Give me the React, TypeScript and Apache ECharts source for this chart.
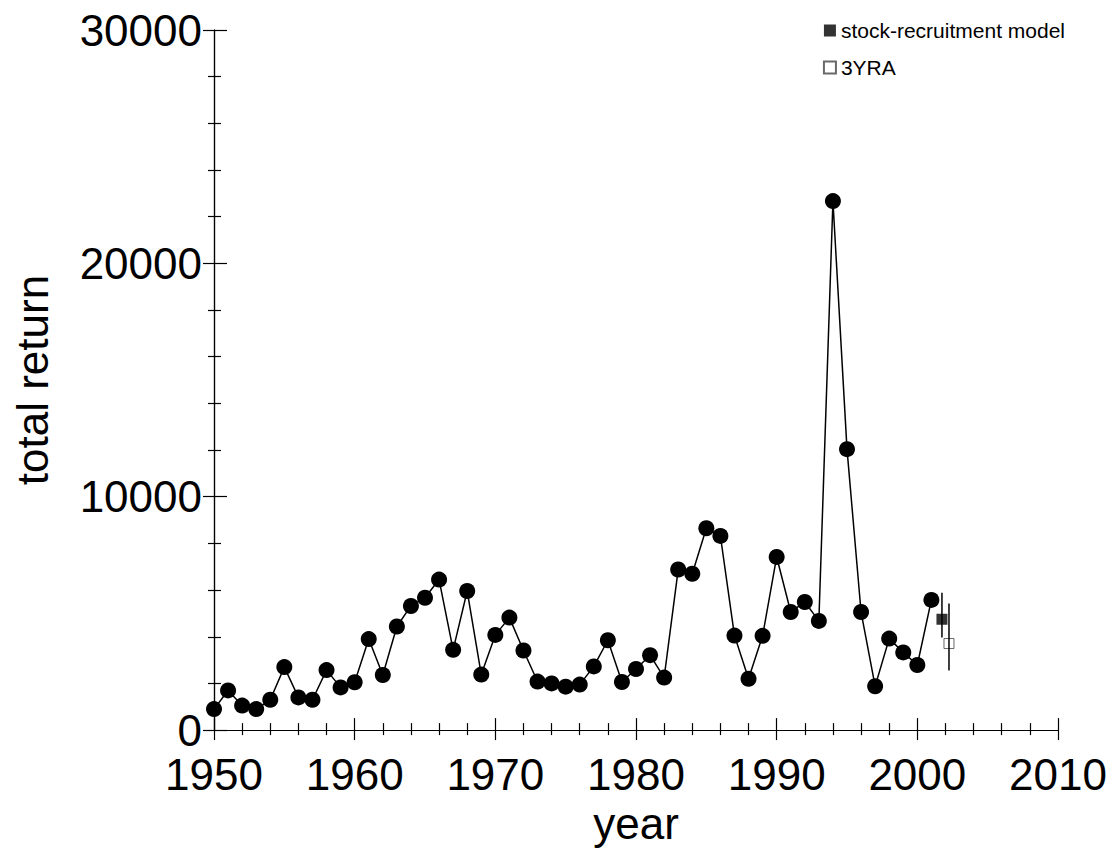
import React, { useEffect, useRef } from "react";
import * as echarts from "echarts";

const years = [
  1950, 1951, 1952, 1953, 1954, 1955, 1956, 1957, 1958, 1959,
  1960, 1961, 1962, 1963, 1964, 1965, 1966, 1967, 1968, 1969,
  1970, 1971, 1972, 1973, 1974, 1975, 1976, 1977, 1978, 1979,
  1980, 1981, 1982, 1983, 1984, 1985, 1986, 1987, 1988, 1989,
  1990, 1991, 1992, 1993, 1994, 1995, 1996, 1997, 1998, 1999,
  2000, 2001,
];
const totalReturn = [
  900, 1700, 1050, 900, 1300, 2700, 1400, 1300, 2570, 1830,
  2050, 3900, 2360, 4440, 5320, 5670, 6450, 3440, 5960, 2380,
  4080, 4820, 3410, 2080, 2000, 1860, 1950, 2730, 3850, 2060,
  2620, 3210, 2250, 6880, 6700, 8650, 8320, 4050, 2200, 4040,
  7420, 5060, 5490, 4680, 22670, 12040, 5060, 1880, 3920, 3330,
  2790, 5580,
];

// forecast 2002: stock-recruitment model
const modelPoint = [2001.75, 4750];
const modelRange = [3970, 5890];
// forecast 2002: 3YRA
const yraPoint = [2002.25, 3710];
const yraRange = [2550, 5420];

const legendNames = ["stock-recruitment model", "3YRA"];
const xMin = 1950, xMax = 2010, xStep = 10;
const yMin = 0, yMax = 30000, yStep = 10000;

const FONT = "Liberation Sans, Arial, sans-serif";

export default function App() {
  const ref = useRef<HTMLDivElement>(null);
  useEffect(() => {
    if (!ref.current) return;
    const chart = echarts.init(ref.current, null, { renderer: "svg" });
    const plain = (v: number) => String(v);
    const baseX = {
      type: "value",
      min: xMin,
      max: xMax,
      interval: xStep,
      position: "bottom",
      splitLine: { show: false },
      axisLine: { show: true, onZero: false, lineStyle: { color: "#000", width: 1.2 } },
    };
    const baseY = {
      type: "value",
      min: yMin,
      max: yMax,
      interval: yStep,
      position: "left",
      splitLine: { show: false },
      axisLine: { show: true, onZero: false, lineStyle: { color: "#000", width: 1.2 } },
    };
    chart.setOption({
      animation: false,
      backgroundColor: "#fff",
      grid: { left: 214, right: 60, top: 30, bottom: 117, containLabel: false },
      legend: {
        data: legendNames,
        orient: "vertical",
        right: 48,
        top: 15,
        align: "left",
        itemWidth: 12,
        itemHeight: 12,
        itemGap: 16,
        textStyle: { fontFamily: FONT, fontSize: 21, color: "#000" },
      },
      xAxis: [
        {
          ...baseX,
          name: "year",
          nameLocation: "middle",
          nameGap: 68,
          nameTextStyle: { fontFamily: FONT, fontSize: 44, color: "#000" },
          axisTick: { show: true, inside: true, length: 12, lineStyle: { color: "#000", width: 1.2 } },
          minorTick: { show: true, splitNumber: 5, length: 7, lineStyle: { color: "#000", width: 1.2 } },
          axisLabel: { fontFamily: FONT, fontSize: 44, color: "#000", margin: 22, formatter: plain },
        },
        {
          ...baseX,
          axisTick: { show: true, inside: false, length: 10, lineStyle: { color: "#000", width: 1.2 } },
          minorTick: { show: true, splitNumber: 5, length: 5, lineStyle: { color: "#000", width: 1.2 } },
          axisLabel: { show: false },
        },
      ],
      yAxis: [
        {
          ...baseY,
          name: "total return",
          nameLocation: "middle",
          nameGap: 160,
          nameTextStyle: { fontFamily: FONT, fontSize: 44, color: "#000" },
          axisTick: { show: true, inside: true, length: 13, lineStyle: { color: "#000", width: 1.2 } },
          minorTick: { show: true, splitNumber: 5, length: 7, lineStyle: { color: "#000", width: 1.2 } },
          axisLabel: { fontFamily: FONT, fontSize: 44, color: "#000", margin: 12, formatter: plain },
        },
        {
          ...baseY,
          axisTick: { show: true, inside: false, length: 11, lineStyle: { color: "#000", width: 1.2 } },
          minorTick: { show: true, splitNumber: 5, length: 6, lineStyle: { color: "#000", width: 1.2 } },
          axisLabel: { show: false },
        },
      ],
      series: [
        {
          name: "total return",
          type: "line",
          xAxisIndex: 0,
          yAxisIndex: 0,
          data: years.map((y, i) => [y, totalReturn[i]]),
          symbol: "circle",
          symbolSize: 16,
          lineStyle: { color: "#000", width: 1.5 },
          itemStyle: { color: "#000" },
        },
        {
          name: "model error",
          type: "line",
          data: [[modelPoint[0], modelRange[0]], [modelPoint[0], modelRange[1]]],
          symbol: "none",
          lineStyle: { color: "#000", width: 1.5 },
        },
        {
          name: "3YRA error",
          type: "line",
          data: [[yraPoint[0], yraRange[0]], [yraPoint[0], yraRange[1]]],
          symbol: "none",
          lineStyle: { color: "#000", width: 1.5 },
        },
        {
          name: legendNames[0],
          type: "scatter",
          data: [modelPoint],
          symbol: "rect",
          symbolSize: 11,
          itemStyle: { color: "#000" },
        },
        {
          name: legendNames[1],
          type: "scatter",
          data: [yraPoint],
          symbol: "rect",
          symbolSize: 10,
          itemStyle: { color: "#fff", borderColor: "#444", borderWidth: 1 },
        },
      ],
    });
    return () => chart.dispose();
  }, []);
  return (
    <div
      ref={ref}
      style={{ position: "fixed", left: 0, top: 0, width: 1118, height: 850, background: "#fff" }}
    />
  );
}
